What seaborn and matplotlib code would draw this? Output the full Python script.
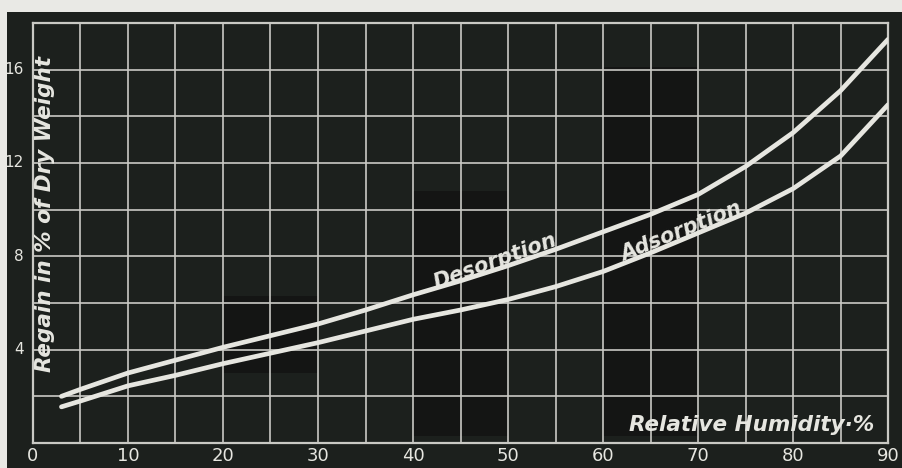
import numpy as np
import pandas as pd
import matplotlib.pyplot as plt
import seaborn as sns
from matplotlib.patches import Rectangle

# relative humidity (%) and regain (% of dry weight)
humidity = [3, 5, 10, 15, 20, 25, 30, 35, 40, 45, 50, 55, 60, 65, 70, 75, 80, 85, 90]
desorption = [2.0, 2.3, 3.0, 3.55, 4.1, 4.6, 5.1, 5.7, 6.35, 6.95, 7.6, 8.3, 9.05,
              9.8, 10.65, 11.85, 13.3, 15.1, 17.3]
adsorption = [1.55, 1.8, 2.45, 2.9, 3.4, 3.85, 4.3, 4.8, 5.3, 5.7, 6.15, 6.7, 7.35,
              8.15, 9.0, 9.85, 10.9, 12.3, 14.5]

x_ticks = [0, 10, 20, 30, 40, 50, 60, 70, 80, 90]
y_ticks = [4, 8, 12, 16]

df = pd.DataFrame({"humidity": humidity * 2,
                   "regain": desorption + adsorption,
                   "curve": ["Desorption"] * len(humidity) + ["Adsorption"] * len(humidity)})

BG = "#1c201d"
GRID = "#c9c9c4"
INK = "#e6e6e0"

sns.set_style("dark")
plt.rcParams["font.family"] = ["DejaVu Sans"]

fig = plt.figure(figsize=(9.03, 4.68), dpi=100, facecolor=BG)
# pale paper strips at top and left edge of the scan
fig.patches.append(Rectangle((0, 0.975), 1, 0.03, transform=fig.transFigure,
                             facecolor="#e9e9e5", edgecolor="none"))
fig.patches.append(Rectangle((0, 0), 0.008, 1, transform=fig.transFigure,
                             facecolor="#e9e9e5", edgecolor="none"))

ax = fig.add_axes([0.0365, 0.0534, 0.947, 0.8975])
ax.set_facecolor(BG)

# darker scan patches
for (x0, y0, w, h) in [(60, 0.3, 10, 15.8), (40, 0.3, 10, 10.5), (20, 3.0, 10, 3.3)]:
    ax.add_patch(Rectangle((x0, y0), w, h, facecolor="#141514", edgecolor="none", zorder=0))

ax.set_xlim(0, 90)
ax.set_ylim(0, 18)
ax.set_xticks(np.arange(0, 91, 5))
ax.set_yticks(np.arange(0, 19, 2))
ax.grid(True, color=GRID, linewidth=1.2)
ax.set_axisbelow(True)
for s in ax.spines.values():
    s.set_color(GRID)
    s.set_linewidth(1.6)
ax.tick_params(length=0, labelbottom=False, labelleft=False)

sns.lineplot(data=df, x="humidity", y="regain", hue="curve",
             palette={"Desorption": INK, "Adsorption": INK},
             linewidth=3.4, legend=False, ax=ax, zorder=3)
ax.set_xlabel("")
ax.set_ylabel("")

for v in x_ticks:
    ax.text(v, -0.55, str(v), ha="center", va="center", fontsize=13,
            color=INK, clip_on=False)
for v in y_ticks:
    ax.text(-1.0, v, str(v), ha="right", va="center", fontsize=11,
            color=INK, clip_on=False)

ax.text(1.3, 9.8, "Regain in % of Dry Weight", rotation=90, ha="center", va="center",
        fontsize=15.5, style="italic", weight="semibold", color=INK, zorder=4)
ax.text(48.6, 7.8, "Desorption", rotation=20, ha="center", va="center",
        fontsize=15, style="italic", weight="semibold", color=INK, zorder=4)
ax.text(68.2, 9.05, "Adsorption", rotation=22, ha="center", va="center",
        fontsize=15, style="italic", weight="semibold", color=INK, zorder=4)
ax.text(75.6, 0.77, "Relative Humidity·%", ha="center", va="center",
        fontsize=15.5, style="italic", weight="semibold", color=INK, zorder=4)

fig.savefig("out.png", dpi=100, facecolor=BG)
